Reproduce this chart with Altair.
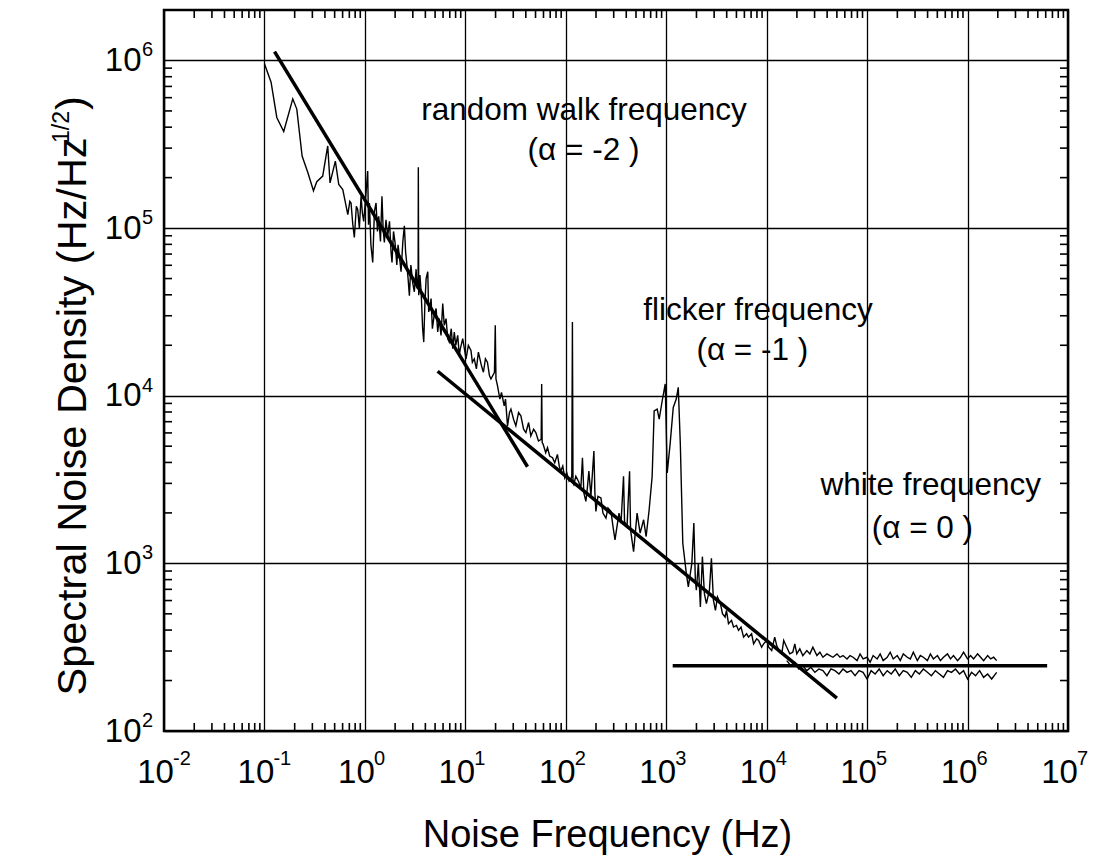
import altair as alt
import pandas as pd

FONT = "Liberation Sans"

# ---- axes -----------------------------------------------------------------
x_decades = [1e-2, 1e-1, 1e0, 1e1, 1e2, 1e3, 1e4, 1e5, 1e6, 1e7]
y_decades = [1e2, 1e3, 1e4, 1e5, 1e6]
x_exponents = ["-2", "-1", "0", "1", "2", "3", "4", "5", "6", "7"]
y_exponents = ["2", "3", "4", "5", "6"]
x_domain = [1e-2, 1e7]
y_domain = [1e2, 2e6]
x_title = "Noise Frequency (Hz)"
y_title_main = "Spectral Noise Density (Hz/Hz"
y_title_sup = "1/2"
y_title_end = ")"

seg_random_walk = [
    (-1.000, 5.98), (-0.934, 5.87), (-0.877, 5.66), (-0.808, 5.576), (-0.718, 5.771),
    (-0.678, 5.71), (-0.625, 5.43), (-0.569, 5.333), (-0.512, 5.223), (-0.479, 5.277),
    (-0.420, 5.31), (-0.370, 5.49), (-0.347, 5.27), (-0.294, 5.40), (-0.260, 5.26),
    (-0.220, 5.23), (-0.170, 5.08), (-0.150, 5.16), (-0.138, 5.15), (-0.120, 5.02),
    (-0.105, 4.944), (-0.085, 5.13), (-0.071, 5.11), (-0.055, 5.00), (-0.038, 5.19),
    (-0.025, 5.09), (-0.012, 5.04), (0.010, 5.20), (0.028, 5.34), (0.036, 5.02),
    (0.045, 5.15), (0.060, 4.90), (0.078, 4.795), (0.095, 5.10), (0.111, 5.15),
    (0.125, 4.98), (0.138, 5.07), (0.155, 4.92), (0.170, 5.19), (0.182, 4.99),
    (0.194, 4.915), (0.210, 5.05), (0.227, 4.95), (0.245, 5.04), (0.260, 4.86),
    (0.270, 4.795), (0.285, 4.98), (0.300, 4.915), (0.318, 4.78), (0.330, 4.90),
    (0.343, 4.835), (0.360, 4.74), (0.378, 4.92), (0.393, 5.014), (0.405, 4.86),
    (0.416, 4.795), (0.430, 4.70), (0.443, 4.596), (0.458, 4.78), (0.476, 4.675),
    (0.492, 4.62), (0.510, 4.755), (0.520, 4.64), (0.530, 4.70), (0.532, 5.363),
    (0.536, 4.60), (0.548, 4.72), (0.560, 4.62), (0.575, 4.40), (0.586, 4.32),
    (0.598, 4.56), (0.610, 4.70), (0.626, 4.74), (0.635, 4.50), (0.645, 4.52),
    (0.659, 4.58), (0.672, 4.40), (0.690, 4.48), (0.709, 4.52), (0.725, 4.38),
    (0.740, 4.46), (0.758, 4.36), (0.775, 4.55), (0.790, 4.42), (0.808, 4.46),
    (0.825, 4.34), (0.840, 4.32), (0.860, 4.40), (0.875, 4.28), (0.890, 4.38),
    (0.905, 4.30), (0.924, 4.36), (0.940, 4.24), (0.950, 4.28), (0.974, 4.34),
]
seg_flicker = [
    (1.007, 4.22), (1.030, 4.30), (1.056, 4.27), (1.070, 4.20), (1.089, 4.22),
    (1.110, 4.16), (1.130, 4.26), (1.160, 4.18), (1.180, 4.14), (1.200, 4.22),
    (1.220, 4.20), (1.240, 4.12), (1.255, 4.10), (1.290, 4.14), (1.298, 4.42),
    (1.305, 4.10), (1.320, 4.06), (1.344, 3.98), (1.360, 4.02), (1.387, 3.94),
    (1.400, 3.98), (1.420, 3.82), (1.440, 3.90), (1.454, 3.92), (1.480, 3.86),
    (1.503, 3.82), (1.530, 3.90), (1.553, 3.88), (1.580, 3.80), (1.603, 3.78),
    (1.630, 3.84), (1.652, 3.76), (1.680, 3.80), (1.702, 3.78), (1.728, 3.73),
    (1.755, 3.74), (1.760, 4.07), (1.765, 3.72), (1.775, 3.71), (1.800, 3.66),
    (1.818, 3.69), (1.840, 3.64), (1.868, 3.63), (1.890, 3.60), (1.917, 3.65),
    (1.935, 3.58), (1.950, 3.55), (1.970, 3.58), (1.990, 3.51), (2.010, 3.54),
    (2.033, 3.49), (2.050, 3.50), (2.060, 3.52), (2.066, 4.44), (2.072, 3.48),
    (2.080, 3.47), (2.100, 3.52), (2.126, 3.49), (2.150, 3.45), (2.166, 3.63),
    (2.180, 3.42), (2.200, 3.37), (2.215, 3.45), (2.230, 3.55), (2.250, 3.40),
    (2.280, 3.67), (2.290, 3.42), (2.300, 3.31), (2.320, 3.40), (2.350, 3.39),
    (2.370, 3.30), (2.400, 3.27), (2.420, 3.33), (2.450, 3.31), (2.470, 3.22),
]
seg_hump = [
    (2.490, 3.14), (2.530, 3.30), (2.550, 3.24), (2.575, 3.52), (2.585, 3.25),
    (2.610, 3.22), (2.635, 3.55), (2.645, 3.20), (2.675, 3.07), (2.710, 3.30),
    (2.740, 3.18), (2.775, 3.26), (2.800, 3.16), (2.830, 3.32), (2.860, 3.52),
    (2.880, 3.91), (2.910, 3.92), (2.930, 3.86), (2.960, 3.97), (2.990, 4.07),
    (3.010, 3.54), (3.040, 3.72), (3.070, 3.93), (3.100, 3.98), (3.120, 4.05),
    (3.140, 3.72), (3.165, 3.12), (3.200, 2.94), (3.220, 2.86), (3.255, 3.00),
    (3.275, 3.24), (3.290, 2.90), (3.300, 2.84), (3.320, 3.00), (3.340, 2.74),
    (3.360, 3.04), (3.380, 2.82), (3.400, 2.76), (3.430, 2.84), (3.450, 3.03),
    (3.470, 2.78), (3.490, 2.72), (3.510, 2.80), (3.540, 2.76), (3.560, 2.70),
    (3.586, 2.68), (3.600, 2.72), (3.620, 2.64), (3.650, 2.66), (3.670, 2.62),
    (3.700, 2.63), (3.720, 2.60), (3.745, 2.62), (3.770, 2.56), (3.800, 2.58),
    (3.820, 2.56), (3.850, 2.58), (3.870, 2.52), (3.900, 2.55), (3.920, 2.54),
    (3.950, 2.50), (3.970, 2.52), (4.000, 2.54),
]
seg_white_upper = [
    (4.02, 2.50), (4.05, 2.48), (4.08, 2.56), (4.10, 2.51), (4.13, 2.47), (4.15, 2.46),
    (4.17, 2.54), (4.20, 2.50), (4.23, 2.46), (4.26, 2.47), (4.28, 2.52), (4.30, 2.46),
    (4.33, 2.49), (4.36, 2.45), (4.40, 2.48), (4.43, 2.46), (4.46, 2.50), (4.50, 2.45),
    (4.53, 2.47), (4.56, 2.44), (4.60, 2.46), (4.63, 2.45), (4.66, 2.44), (4.70, 2.46),
    (4.73, 2.44), (4.76, 2.45), (4.80, 2.43), (4.83, 2.45), (4.86, 2.44), (4.90, 2.42),
    (4.93, 2.46), (4.96, 2.43), (5.00, 2.44), (5.03, 2.41), (5.06, 2.45), (5.10, 2.43),
    (5.13, 2.46), (5.16, 2.42), (5.20, 2.44), (5.23, 2.47), (5.26, 2.43), (5.30, 2.45),
    (5.33, 2.42), (5.36, 2.46), (5.40, 2.44), (5.43, 2.43), (5.46, 2.47), (5.50, 2.42),
    (5.53, 2.45), (5.56, 2.44), (5.60, 2.42), (5.63, 2.46), (5.66, 2.43), (5.70, 2.45),
    (5.73, 2.42), (5.76, 2.44), (5.80, 2.46), (5.83, 2.43), (5.86, 2.45), (5.90, 2.42),
    (5.93, 2.44), (5.96, 2.47), (6.00, 2.43), (6.03, 2.45), (6.06, 2.43), (6.10, 2.46),
    (6.13, 2.44), (6.16, 2.42), (6.20, 2.45), (6.23, 2.43), (6.26, 2.44), (6.29, 2.42),
]
seg_white_lower = [
    (4.20, 2.42), (4.24, 2.39), (4.28, 2.41), (4.32, 2.37), (4.36, 2.39), (4.40, 2.36),
    (4.44, 2.38), (4.48, 2.35), (4.52, 2.37), (4.56, 2.36), (4.60, 2.33), (4.64, 2.37),
    (4.68, 2.36), (4.72, 2.34), (4.76, 2.37), (4.80, 2.35), (4.84, 2.36), (4.88, 2.33),
    (4.92, 2.36), (4.96, 2.35), (5.00, 2.31), (5.04, 2.36), (5.08, 2.34), (5.12, 2.37),
    (5.16, 2.33), (5.20, 2.36), (5.24, 2.34), (5.28, 2.37), (5.32, 2.33), (5.36, 2.36),
    (5.40, 2.35), (5.44, 2.32), (5.48, 2.36), (5.52, 2.34), (5.56, 2.37), (5.60, 2.35),
    (5.64, 2.33), (5.68, 2.36), (5.72, 2.34), (5.76, 2.32), (5.80, 2.36), (5.84, 2.35),
    (5.88, 2.37), (5.92, 2.34), (5.96, 2.36), (6.00, 2.31), (6.04, 2.35), (6.08, 2.33),
    (6.12, 2.36), (6.16, 2.32), (6.20, 2.34), (6.24, 2.31), (6.29, 2.35),
]

# ---- fitted power-law lines (end points, Hz and Hz/Hz^1/2) ----
fit_random_walk_f = [0.126, 41.6]
fit_random_walk_v = [1.13e6, 3.77e3]
fit_flicker_f = [5.3, 5.0e4]
fit_flicker_v = [1.40e4, 157]
fit_white_f = [1.16e3, 6.2e6]
fit_white_v = [245, 245]

# ---- annotations ----
annot_text = ["random walk frequency", "(α = -2 )", "flicker frequency", "(α = -1 )",
              "white frequency", "(α = 0 )"]
annot_f = [152, 150, 8.2e3, 7.2e3, 4.3e5, 3.55e5]
annot_v = [4.39e5, 2.56e5, 2.84e4, 1.64e4, 2.56e3, 1.42e3]

# ---- build tables ----
rows = []
i = 0
for seg in (seg_random_walk, seg_flicker, seg_hump, seg_white_upper):
    for lf, lv in seg:
        rows.append({"series": "upper", "i": i, "f": 10 ** lf, "v": 10 ** lv})
        i += 1
for lf, lv in seg_white_lower:
    rows.append({"series": "lower", "i": i, "f": 10 ** lf, "v": 10 ** lv})
    i += 1
trace_df = pd.DataFrame(rows)

fit_rows = []
for name, fs, vs in (("rw", fit_random_walk_f, fit_random_walk_v),
                     ("fl", fit_flicker_f, fit_flicker_v),
                     ("wh", fit_white_f, fit_white_v)):
    for k, (f, v) in enumerate(zip(fs, vs)):
        fit_rows.append({"fit": name, "k": k, "f": f, "v": v})
fit_df = pd.DataFrame(fit_rows)

annot_df = pd.DataFrame({"t": annot_text, "f": annot_f, "v": annot_v})
xexp_df = pd.DataFrame({"v": x_decades, "e": x_exponents})
yexp_df = pd.DataFrame({"v": y_decades, "e": y_exponents})

x_minor = [k * d for d in x_decades[:-1] for k in range(2, 10)]
y_minor = [k * d for d in y_decades[:-1] for k in range(2, 10)] + [2e6]
xt_df = pd.DataFrame({"v": x_minor})
yt_df = pd.DataFrame({"v": y_minor})

W, H = 904, 721
LABEL_FS = 33
EXP_FS = 20
YTITLE_FS = 41.5

xscale = alt.Scale(type="log", domain=x_domain, nice=False)
yscale = alt.Scale(type="log", domain=y_domain, nice=False)

xaxis = alt.Axis(values=x_decades, labelExpr="'10'", labelPadding=25, labelOffset=-9,
                 labelFlush=False, labelOverlap=False, labelBound=False,
                 title=x_title, titleX=443, titleY=115,
                 titleBaseline="alphabetic", titleAlign="center")
yaxis = alt.Axis(values=y_decades, labelExpr="'10'", labelPadding=23,
                 labelFlush=False, labelOverlap=False, labelBound=False,
                 title=y_title_main, titleX=-79, titleY=685, titleAngle=270,
                 titleBaseline="alphabetic", titleAlign="left", titleFontSize=YTITLE_FS)


def X(field="f"):
    return alt.X(f"{field}:Q", scale=xscale, axis=xaxis)


def Y(field="v"):
    return alt.Y(f"{field}:Q", scale=yscale, axis=yaxis)


trace = alt.Chart(trace_df).mark_line(color="black", strokeWidth=1.4).encode(
    x=X(), y=Y(), detail="series:N", order="i:Q")

fits = alt.Chart(fit_df).mark_line(color="black", strokeWidth=3.5, strokeCap="butt").encode(
    x=X(), y=Y(), detail="fit:N", order="k:Q")

annots = alt.Chart(annot_df).mark_text(
    font=FONT, fontSize=31.5, color="black", align="center", baseline="alphabetic"
).encode(x=X(), y=Y(), text="t:N")

x_exp = alt.Chart(xexp_df).mark_text(
    font=FONT, fontSize=EXP_FS, color="black", align="left", baseline="alphabetic", dx=9
).encode(x=X("v"), y=alt.value(H + 34), text="e:N")

y_exp = alt.Chart(yexp_df).mark_text(
    font=FONT, fontSize=EXP_FS, color="black", align="left", baseline="alphabetic", dy=-4
).encode(y=Y("v"), x=alt.value(-22), text="e:N")

y_sup = alt.Chart(pd.DataFrame({"t": [y_title_sup]})).mark_text(
    font=FONT, fontSize=23, color="black", align="left", baseline="alphabetic", angle=270
).encode(x=alt.value(-95), y=alt.value(133), text="t:N")
y_end = alt.Chart(pd.DataFrame({"t": [y_title_end]})).mark_text(
    font=FONT, fontSize=YTITLE_FS, color="black", align="left", baseline="alphabetic", angle=270
).encode(x=alt.value(-79), y=alt.value(100), text="t:N")

tick_bottom = alt.Chart(xt_df).mark_rule(color="black", strokeWidth=1.6).encode(
    x=X("v"), y=alt.value(H), y2=alt.value(H - 8))
tick_top = alt.Chart(xt_df).mark_rule(color="black", strokeWidth=1.6).encode(
    x=X("v"), y=alt.value(0), y2=alt.value(8))
tick_left = alt.Chart(yt_df).mark_rule(color="black", strokeWidth=1.6).encode(
    y=Y("v"), x=alt.value(0), x2=alt.value(8))
tick_right = alt.Chart(yt_df).mark_rule(color="black", strokeWidth=1.6).encode(
    y=Y("v"), x=alt.value(W), x2=alt.value(W - 8))

chart = alt.layer(
    trace, fits, annots, x_exp, y_exp, y_sup, y_end,
    tick_bottom, tick_top, tick_left, tick_right
).properties(
    width=W, height=H,
    autosize=alt.AutoSizeParams(type="none"),
    padding={"left": 164, "top": 10, "right": 26, "bottom": 126},
    background="white",
).configure_view(
    stroke="black", strokeWidth=2.5
).configure_axis(
    labelFont=FONT, titleFont=FONT, labelFontSize=LABEL_FS, titleFontSize=38,
    labelColor="black", titleColor="black", titleFontWeight="normal",
    domain=False, ticks=False, tickSize=0,
    grid=True, gridColor="black", gridOpacity=1, gridWidth=1.3,
)

chart.save("out.html", embed_options={"renderer": "svg", "actions": False})
